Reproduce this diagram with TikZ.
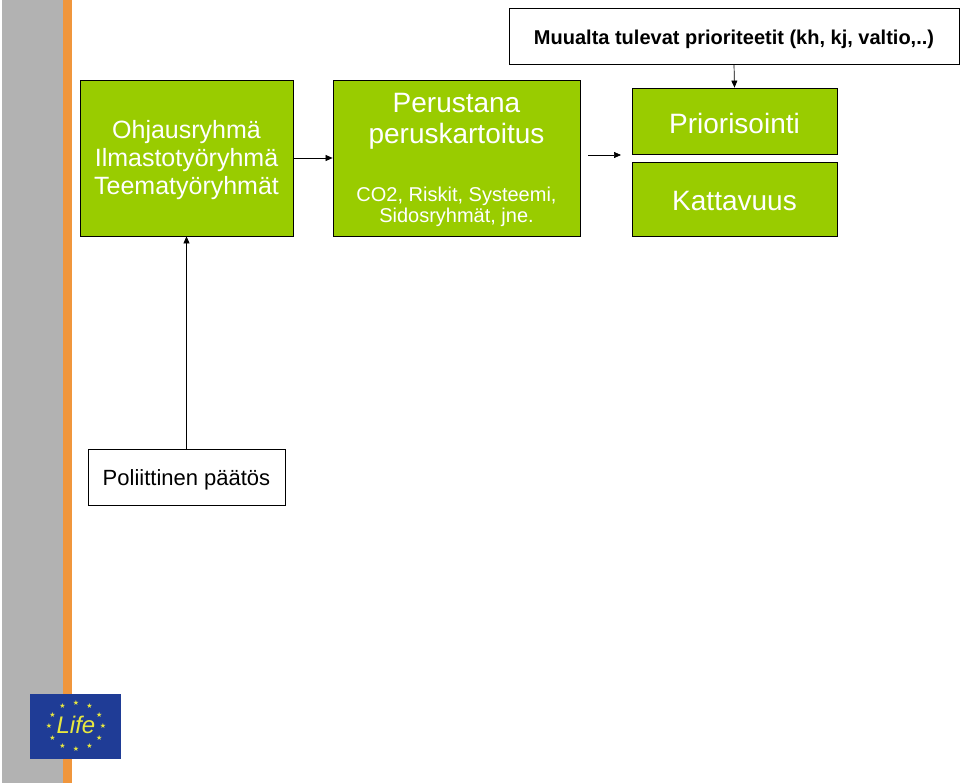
\documentclass[tikz,border=0pt]{standalone}
\usepackage{fontspec}
\setmainfont{Liberation Sans}
\newfontfamily\djv{DejaVu Sans}
\usetikzlibrary{arrows.meta,calc}
\definecolor{grn}{HTML}{99CC00}
\definecolor{gry}{HTML}{B2B2B2}
\definecolor{org}{HTML}{F0963C}
\definecolor{eub}{HTML}{1F3C96}
\definecolor{eud}{HTML}{E8E840}
\begin{document}
\begin{tikzpicture}[x=1pt,y=-1pt,
  gbox/.style={draw=black,line width=0.8pt,fill=grn,text=white,align=center,inner sep=0pt},
  wbox/.style={draw=black,line width=0.8pt,fill=white,align=center,inner sep=0pt},
  arr/.style={-{Triangle[length=7pt,width=6pt]},line width=0.7pt}]
\useasboundingbox (0,0) rectangle (960,783);
\fill[gry] (2,0) rectangle (63,783);
\fill[org] (63,0) rectangle (72,783);
% logo
\fill[eub] (30,694) rectangle (121,759);
\foreach \a in {0,30,...,330} \node[text=eud,font=\djv\fontsize{7}{7}\selectfont] at ($(76,726)+(\a:27 and 23)$) {★};
\node[text=eud,font=\itshape\fontsize{24}{24}\selectfont] at (76,725) {Life};
\node[gbox,minimum width=213,minimum height=156,font=\fontsize{25}{28}\selectfont] (ohj) at (186.5,158) {};
\node[text=white,align=center,font=\fontsize{25}{28}\selectfont] at (186.5,160.5) {Ohjausryhmä\\Ilmastotyöryhmä\\Teematyöryhmät};
\node[gbox,minimum width=247,minimum height=156] (per) at (456.5,158) {};
\node[text=white,align=center,font=\fontsize{28}{31}\selectfont] at (456.5,121.5) {Perustana\\peruskartoitus};
\node[text=white,align=center,font=\fontsize{20}{21}\selectfont] at (456.5,207) {CO2, Riskit, Systeemi,\\Sidosryhmät, jne.};
\node[gbox,minimum width=205,minimum height=66] (pri) at (734.5,121) {};
\node[text=white,font=\fontsize{28}{30}\selectfont] at (734.5,123) {Priorisointi};
\node[gbox,minimum width=205,minimum height=74] (kat) at (734.5,199) {};
\node[text=white,font=\fontsize{28}{30}\selectfont] at (734.5,201) {Kattavuus};
\node[wbox,minimum width=450,minimum height=56] (muu) at (734,36) {};
\node[font=\bfseries\fontsize{20}{22}\selectfont] at (734,39) {Muualta tulevat prioriteetit (kh, kj, valtio,..)};
\node[wbox,minimum width=197,minimum height=56] (pol) at (186.5,477) {};
\node[font=\fontsize{22}{24}\selectfont] at (186.5,480) {Poliittinen päätös};
\coordinate (a1) at (588,155); \coordinate (a2) at (621,155);
\draw[arr] (ohj.east) -- (per.west);
\draw[arr] (a1) -- (a2);
\draw[arr] (muu.south) -- (pri.north);
\draw[arr] (pol.north) -- (ohj.south);
\end{tikzpicture}
\end{document}
